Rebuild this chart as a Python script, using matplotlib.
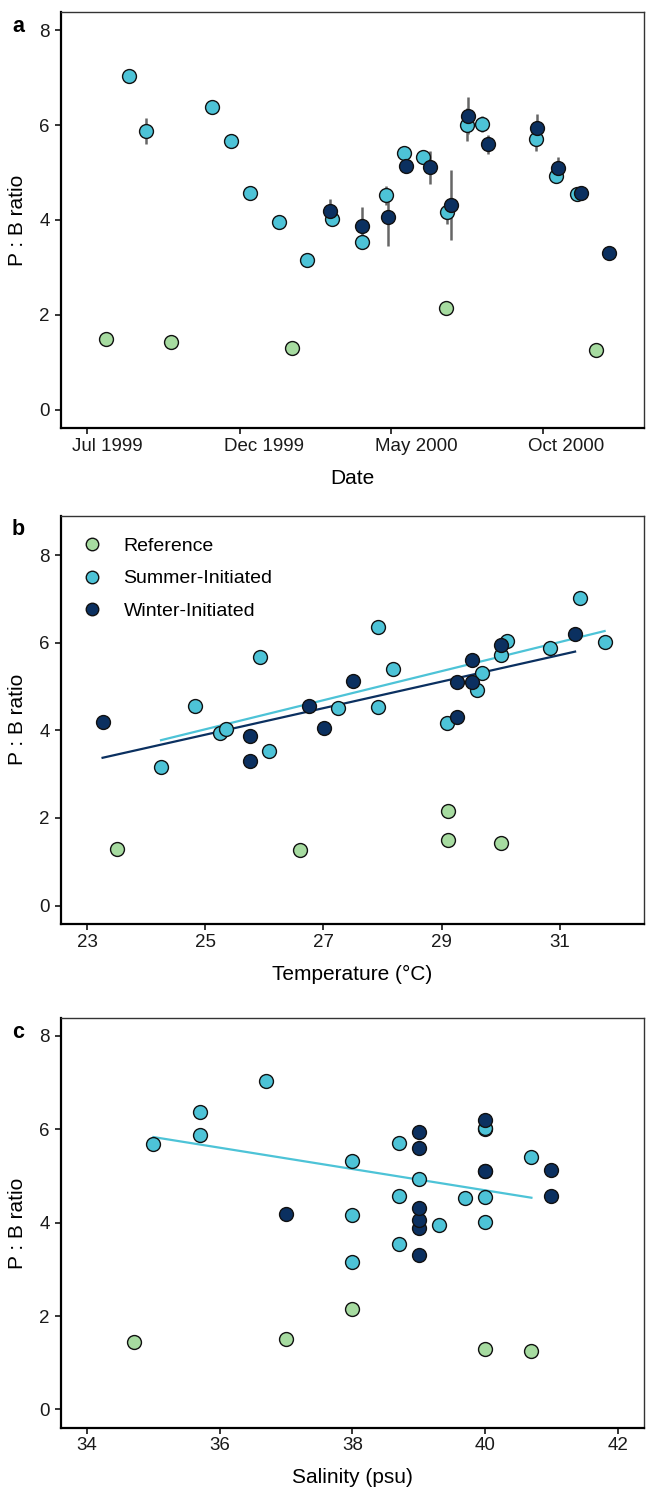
import numpy as np
import pandas as pd
import matplotlib
matplotlib.use('Agg')
import matplotlib.pyplot as plt
import matplotlib.dates as mdates
import matplotlib.transforms as mtransforms
from matplotlib.lines import Line2D

plt.rcParams['font.family'] = ['Liberation Sans', 'DejaVu Sans']

# group names and fill colours
groups = ['Reference', 'Summer-Initiated', 'Winter-Initiated']
fills = ['#a6dba0', '#4dc3d7', '#0b3060']

# Reference sites
ref_dates = ['1999-07-20', '1999-09-23', '2000-01-23', '2000-06-25', '2000-11-23']
ref_pb = [1.50, 1.44, 1.30, 2.15, 1.26]
ref_err = [0, 0, 0, 0, 0]
ref_temp = [29.1, 30.0, 23.5, 29.1, 26.6]
ref_sal = [37.0, 34.7, 40.0, 38.0, 40.7]

# Summer-initiated reefs
sum_dates = ['1999-08-12', '1999-08-29', '1999-11-03', '1999-11-22', '1999-12-12',
             '2000-01-10', '2000-02-07', '2000-03-03', '2000-04-02', '2000-04-26',
             '2000-05-14', '2000-06-02', '2000-06-26', '2000-07-17', '2000-08-01',
             '2000-09-24', '2000-10-14', '2000-11-04']
sum_pb = [7.03, 5.88, 6.37, 5.67, 4.56, 3.95, 3.16, 4.02, 3.54, 4.52,
          5.41, 5.32, 4.17, 6.01, 6.03, 5.71, 4.93, 4.54]
sum_err = [0, 0.27, 0, 0, 0, 0, 0, 0, 0, 0.20,
           0, 0, 0.25, 0.35, 0.17, 0.25, 0, 0]
sum_temp = [31.34, 30.84, 27.93, 25.93, 24.83, 25.25, 24.25, 25.35, 26.08, 27.25,
            28.17, 29.68, 29.09, 31.76, 30.10, 30.00, 29.60, 27.93]
sum_sal = [36.7, 35.7, 35.7, 35.0, 38.7, 39.3, 38.0, 40.0, 38.7, 39.7,
           40.7, 38.0, 38.0, 40.0, 40.0, 38.7, 39.0, 40.0]

# Winter-initiated reefs
win_dates = ['2000-03-01', '2000-04-02', '2000-04-28', '2000-05-16', '2000-06-09',
             '2000-06-30', '2000-07-18', '2000-08-07', '2000-09-25', '2000-10-16',
             '2000-11-08', '2000-12-06']
win_pb = [4.19, 3.88, 4.06, 5.13, 5.11, 4.31, 6.20, 5.60, 5.94, 5.10, 4.56, 3.30]
win_err = [0.25, 0.40, 0.60, 0.15, 0.35, 0.74, 0.38, 0.20, 0.30, 0.23, 0.05, 0.10]
win_temp = [23.26, 25.76, 27.01, 27.50, 29.26, 29.26, 31.26, 29.52, 30.00, 29.52, 26.76, 25.76]
win_sal = [37.0, 39.0, 39.0, 41.0, 40.0, 39.0, 40.0, 39.0, 39.0, 40.0, 41.0, 39.0]

frames = []
for name, d, pb, err, t, s in [
        ('Reference', ref_dates, ref_pb, ref_err, ref_temp, ref_sal),
        ('Summer-Initiated', sum_dates, sum_pb, sum_err, sum_temp, sum_sal),
        ('Winter-Initiated', win_dates, win_pb, win_err, win_temp, win_sal)]:
    frames.append(pd.DataFrame({'group': name, 'date': pd.to_datetime(d), 'pb': pb,
                                'err': err, 'temp': t, 'sal': s}))
df = pd.concat(frames, ignore_index=True)

W, H = 646, 1491
fig = plt.figure(figsize=(W / 100, H / 100), dpi=100)


def make_axes(top, bottom):
    return fig.add_axes([61 / W, 1 - bottom / H, 583 / W, (bottom - top) / H])


def style(ax, ylim, label, xlabel):
    ax.set_ylim(*ylim)
    ax.set_yticks([0, 2, 4, 6, 8])
    for side in ['left', 'bottom']:
        ax.spines[side].set_linewidth(1.6)
        ax.spines[side].set_color('black')
    for side in ['top', 'right']:
        ax.spines[side].set_linewidth(1.0)
        ax.spines[side].set_color('#333333')
    ax.tick_params(direction='out', length=4, width=1.1, labelsize=13.5,
                   labelcolor='#1a1a1a', pad=3)
    ax.tick_params(axis='y', pad=4)
    ax.set_ylabel('P : B ratio', fontsize=15)
    ax.yaxis.set_label_coords(-43 / 583, 0.5)
    ax.yaxis.label.set_va('center')
    ax.set_xlabel(xlabel, fontsize=15)
    ax.xaxis.set_label_coords(0.5, -50 / ax.bbox.height)
    ax.xaxis.label.set_va('center')
    ax.text(-49 / 583, 1 - 19.5 / ax.bbox.height, label, transform=ax.transAxes,
            fontsize=15.5, fontweight='bold', ha='left', va='baseline')


def draw_points(ax, xcol):
    for i, g in enumerate(groups):
        sub = df[df['group'] == g]
        ax.scatter(sub[xcol], sub['pb'], s=100, c=fills[i], edgecolors='#111111',
                   linewidths=1.0, zorder=3 + i)


def draw_fit(ax, xcol, g, color):
    # least-squares line over the range of that group
    sub = df[df['group'] == g]
    slope, icpt = np.polyfit(sub[xcol], sub['pb'], 1)
    xs = np.array([sub[xcol].min(), sub[xcol].max()])
    ax.plot(xs, slope * xs + icpt, color=color, lw=1.6, zorder=2)


# a: P:B ratio through time
ax1 = make_axes(12, 428)
e = df[df['err'] > 0]
ax1.vlines(e['date'], e['pb'] - e['err'], e['pb'] + e['err'], color='#666666',
           lw=1.8, zorder=1)
draw_points(ax1, 'date')
jul = pd.Timestamp('1999-07-01')
ax1.set_xlim(jul - pd.Timedelta(days=26.3), jul + pd.Timedelta(days=559.3))
ax1.set_xticks(pd.to_datetime(['1999-07-01', '1999-12-01', '2000-05-01', '2000-10-01']))
ax1.xaxis.set_major_formatter(mdates.DateFormatter('%b %Y'))
style(ax1, (-0.38, 8.38), 'a', 'Date')
shift = mtransforms.ScaledTranslation(-15.5 / 100, 0, fig.dpi_scale_trans)
for lab in ax1.xaxis.get_majorticklabels():
    lab.set_ha('left')
    lab.set_transform(lab.get_transform() + shift)

# b: P:B ratio against temperature
ax2 = make_axes(515.7, 924)
draw_fit(ax2, 'temp', 'Summer-Initiated', '#4dc3d7')
draw_fit(ax2, 'temp', 'Winter-Initiated', '#0b3060')
draw_points(ax2, 'temp')
ax2.set_xlim(22.556, 32.427)
ax2.set_xticks([23, 25, 27, 29, 31])
style(ax2, (-0.42, 8.9), 'b', 'Temperature (°C)')
handles = [Line2D([], [], ls='none', marker='o', markersize=9, markerfacecolor=c,
                  markeredgecolor='#111111', markeredgewidth=1.0) for c in fills]
ax2.legend(handles, groups, loc='upper left', bbox_to_anchor=(0.034, 0.948),
           frameon=False, fontsize=14, handlelength=1.2, handletextpad=1.0,
           labelspacing=0.78, borderaxespad=0, borderpad=0)

# c: P:B ratio against salinity
ax3 = make_axes(1018.3, 1427.7)
draw_fit(ax3, 'sal', 'Summer-Initiated', '#4dc3d7')
draw_points(ax3, 'sal')
ax3.set_xlim(33.605, 42.398)
ax3.set_xticks([34, 36, 38, 40, 42])
style(ax3, (-0.39, 8.37), 'c', 'Salinity (psu)')

fig.savefig('out.png', dpi=100)
